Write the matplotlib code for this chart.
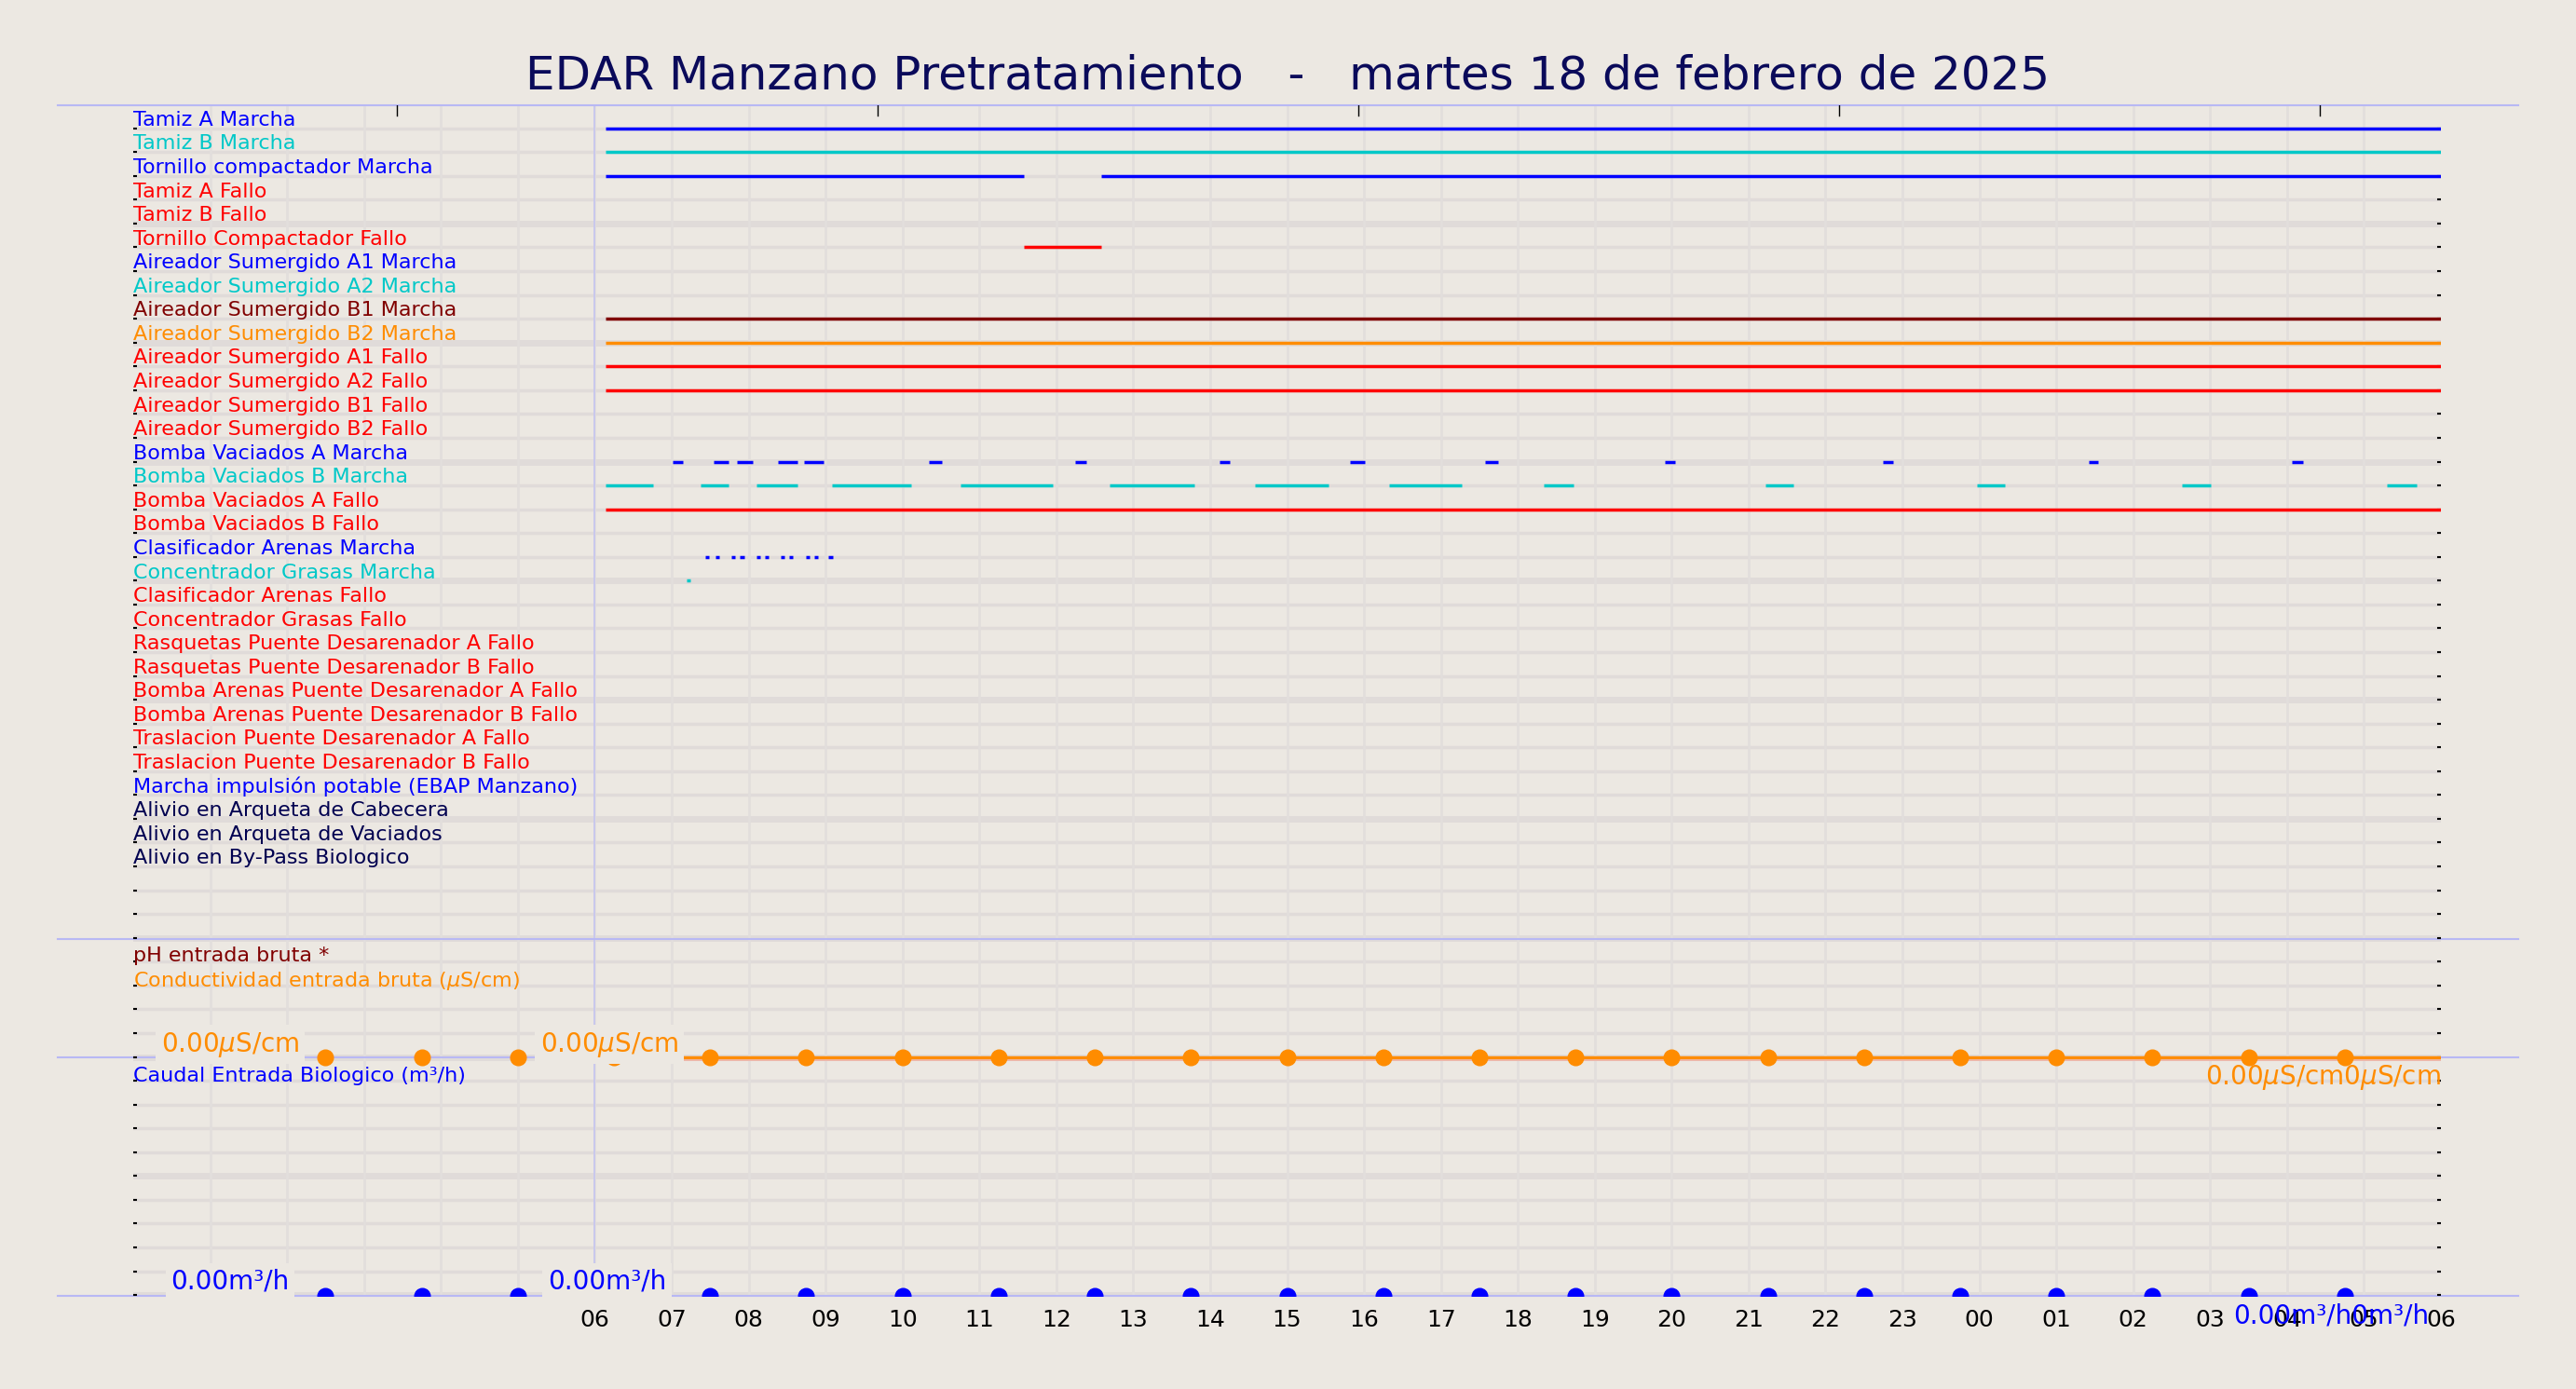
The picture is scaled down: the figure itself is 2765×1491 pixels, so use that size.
import matplotlib
matplotlib.use("Agg")
import matplotlib.pyplot as plt
import numpy as np

BG = '#ece8e2'
BLUE, CYAN, RED, DRED, ORANGE, NAVY = '#0000ff', '#00c8c8', '#ff0000', '#800000', '#ff8c00', '#000050'

labels = ["Tamiz A Marcha", "Tamiz B Marcha", "Tornillo compactador Marcha", "Tamiz A Fallo",
          "Tamiz B Fallo", "Tornillo Compactador Fallo", "Aireador Sumergido A1 Marcha",
          "Aireador Sumergido A2 Marcha", "Aireador Sumergido B1 Marcha", "Aireador Sumergido B2 Marcha",
          "Aireador Sumergido A1 Fallo", "Aireador Sumergido A2 Fallo", "Aireador Sumergido B1 Fallo",
          "Aireador Sumergido B2 Fallo", "Bomba Vaciados A Marcha", "Bomba Vaciados B Marcha",
          "Bomba Vaciados A Fallo", "Bomba Vaciados B Fallo", "Clasificador Arenas Marcha",
          "Concentrador Grasas Marcha", "Clasificador Arenas Fallo", "Concentrador Grasas Fallo",
          "Rasquetas Puente Desarenador A Fallo", "Rasquetas Puente Desarenador B Fallo",
          "Bomba Arenas Puente Desarenador A Fallo", "Bomba Arenas Puente Desarenador B Fallo",
          "Traslacion Puente Desarenador A Fallo", "Traslacion Puente Desarenador B Fallo",
          "Marcha impulsión potable (EBAP Manzano)", "Alivio en Arqueta de Cabecera",
          "Alivio en Arqueta de Vaciados", "Alivio en By-Pass Biologico"]
colors = [BLUE, CYAN, BLUE, RED, RED, RED, BLUE, CYAN, DRED, ORANGE, RED, RED, RED, RED,
          BLUE, CYAN, RED, RED, BLUE, CYAN, RED, RED, RED, RED, RED, RED, RED, RED,
          BLUE, NAVY, NAVY, NAVY]

# on-intervals (hours; 6 = 06:00 day 1, 30 = 06:00 day 2)
segments = {
    0: [(6.14, 30)],
    1: [(6.14, 30)],
    2: [(6.14, 11.58), (12.58, 30)],
    5: [(11.58, 12.58)],
    8: [(6.14, 30)],
    9: [(6.14, 30)],
    10: [(6.14, 30)],
    11: [(6.14, 30)],
    14: [(7.01, 7.14), (7.55, 7.74), (7.85, 8.06), (8.38, 8.64), (8.72, 8.98), (10.34, 10.51),
         (12.24, 12.39), (14.12, 14.26), (15.82, 16.01), (17.57, 17.74), (19.91, 20.04),
         (22.75, 22.88), (25.42, 25.54), (28.06, 28.21)],
    15: [(6.14, 6.76), (7.38, 7.74), (8.10, 8.64), (9.08, 10.11), (10.75, 11.96), (12.69, 13.80),
         (14.58, 15.54), (16.33, 17.27), (18.34, 18.72), (21.22, 21.58), (23.97, 24.33),
         (26.63, 27.01), (29.30, 29.68)],
    16: [(6.14, 30)],
    18: [(7.44, 7.49), (7.57, 7.62), (7.78, 7.83), (7.89, 7.94), (8.10, 8.15), (8.21, 8.26),
         (8.42, 8.47), (8.53, 8.58), (8.74, 8.79), (8.85, 8.90), (9.04, 9.09)],
    19: [(7.19, 7.24)],
}

sample_x = [2.5, 3.75, 5.0, 6.25, 7.5, 8.75, 10.0, 11.25, 12.5, 13.75, 15.0, 16.25, 17.5, 18.75,
            20.0, 21.25, 22.5, 23.75, 25.0, 26.25, 27.5, 28.75]
cond_vals = [0.0] * len(sample_x)
flow_vals = [0.0] * len(sample_x)
tick_hours = list(range(6, 31))
tick_labels = ["%02d" % (h % 24) for h in tick_hours]

fig = plt.figure(figsize=(27.65, 14.91), dpi=100, facecolor=BG)
ax = fig.add_axes([143/2765, 1 - 1391/1491, (2620-143)/2765, (1391-113)/1491])
ax.set_facecolor(BG)
ax.set_xlim(0, 30)
ax.set_ylim(789, 64)
for s in ax.spines.values():
    s.set_visible(False)

row_y = 78 + 14.5 * np.arange(50)
for k, y in enumerate(row_y):
    ax.axhline(y, color='#e0dbd9', lw=5 if k % 5 == 4 else 2.5, zorder=0)
for h in range(1, 30):
    ax.axvline(h, color='#e2dedc', lw=2, zorder=0)
ax.axvline(6, color='#c4c4f0', lw=1.2, zorder=1)
for yy in [64, 572, 644, 789]:
    ax.plot([-0.98, 31.0], [yy, yy], color='#b8b8f4', lw=1.5, clip_on=False, zorder=1)

ax.set_xticks(tick_hours)
ax.set_xticklabels(tick_labels, fontsize=18)
ax.tick_params(axis='x', length=0, pad=10)
ax.set_yticks(row_y)
ax.set_yticklabels([])
ax.tick_params(axis='y', left=True, right=True, length=3, width=1.5, direction='in', color='black')
for tx in [3.43, 9.68, 15.93, 22.18, 28.43]:
    ax.plot([tx, tx], [64, 70], color='black', lw=1, zorder=3)

for i, (lab, c) in enumerate(zip(labels, colors)):
    ax.text(0.0, row_y[i] - 5, lab, color=c, fontsize=16, va='center', ha='left', zorder=4)
    for a, b in segments.get(i, []):
        ax.plot([a, b], [row_y[i], row_y[i]], color=c, lw=2.5, solid_capstyle='butt', zorder=3)

ax.text(0.0, 582, "pH entrada bruta *", color=DRED, fontsize=16, va='center', zorder=4)
ax.text(0.0, 597, r"Conductividad entrada bruta ($\mu$S/cm)", color=ORANGE, fontsize=16, va='center', zorder=4)
ax.text(0.0, 655, "Caudal Entrada Biologico (m³/h)", color=BLUE, fontsize=16, va='center', zorder=4)

cond_y = 644 - np.array(cond_vals)
flow_y = 789 - np.array(flow_vals)
ax.plot([7.05, 30], [644, 644], color=ORANGE, lw=2.5, zorder=3)
ax.plot([7.05, 30], [645.5, 645.5], color='#f0b0a0', lw=1.2, zorder=3)
ax.plot(sample_x, cond_y, 'o', color=ORANGE, ms=12, zorder=4)
ax.plot(sample_x, flow_y, 'o', color=BLUE, ms=12, zorder=4)

bb = dict(facecolor=BG, edgecolor='none', pad=4)
ax.text(0.36, 636, r"0.00$\mu$S/cm", color=ORANGE, fontsize=20, va='center', bbox=bb, zorder=5)
ax.text(5.29, 636, r"0.00$\mu$S/cm", color=ORANGE, fontsize=20, va='center', bbox=bb, zorder=5)
ax.text(30, 656, r"0.00$\mu$S/cm0$\mu$S/cm", color=ORANGE, fontsize=20, va='center', ha='right', zorder=5)
ax.text(0.49, 780, "0.00m³/h", color=BLUE, fontsize=20, va='center', bbox=bb, zorder=5)
ax.text(5.39, 780, "0.00m³/h", color=BLUE, fontsize=20, va='center', bbox=bb, zorder=5)
ax.text(29.85, 801, "0.00m³/h0m³/h", color=BLUE, fontsize=20, va='center', ha='right',
        clip_on=False, zorder=5)

fig.text(0.5, 1 - 81/1491, "EDAR Manzano Pretratamiento   -   martes 18 de febrero de 2025",
         ha='center', va='center', fontsize=36, color='#0a0a5a')

fig.savefig("out.png", dpi=100, facecolor=BG)
